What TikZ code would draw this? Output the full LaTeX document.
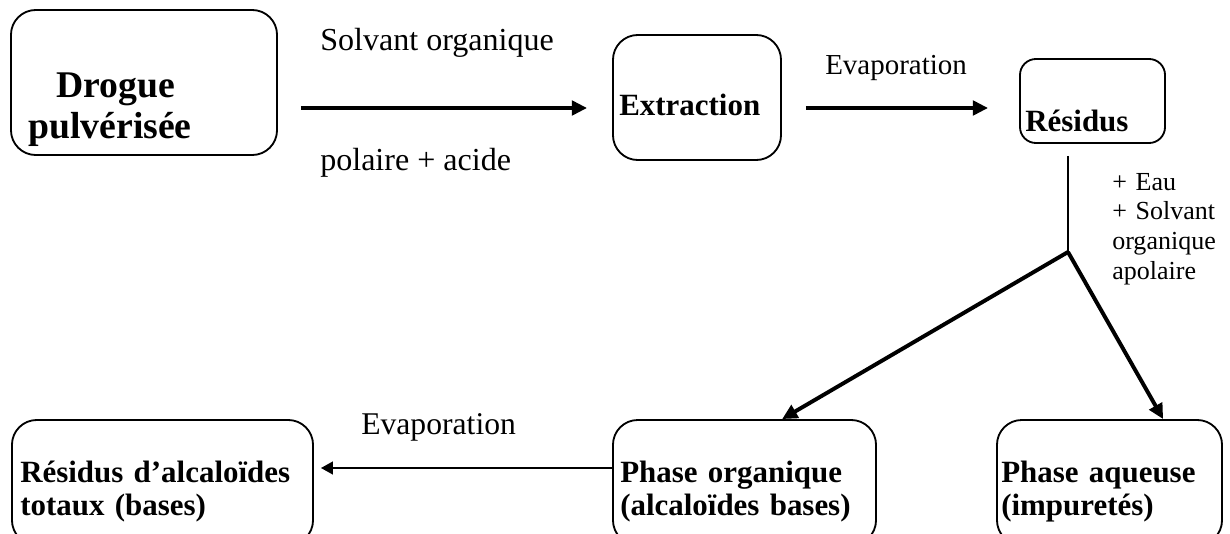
\documentclass[tikz,border=0pt]{standalone}
\usepackage{fontspec}
\setmainfont{Liberation Serif}
\usepackage{tikz}
\usetikzlibrary{arrows.meta}
\tikzstyle{box} = [rectangle, rounded corners=0.62cm, draw=black, line width=1.3pt]
\tikzstyle{boxtext} = [font=\bfseries\fontsize{22}{23.5}\selectfont, inner sep=0pt, anchor=base west, text width=9cm, align=left]
\tikzstyle{note} = [font=\fontsize{22.8}{26}\selectfont, inner sep=0pt, anchor=base west]
\tikzstyle{arrow} = [line width=2.8pt, -{Triangle[length=0.38cm, width=0.36cm]}]
\tikzstyle{thinarrow} = [line width=1.4pt, -{Triangle[length=0.3cm, width=0.32cm]}]
\tikzstyle{thinline} = [line width=1pt]

\begin{document}
\begin{tikzpicture}[x=0.025cm, y=-0.025cm]
\useasboundingbox (0,0) rectangle (1230,533);
\coordinate (row1) at (0,108);
\coordinate (row2) at (0,468);
\coordinate (split) at (1068,252);

\node (drogue) [box, minimum width=6.65cm, minimum height=3.625cm] at (144,82.5) {};
\node (extraction) [box, minimum width=4.2cm, minimum height=3.125cm] at (697,97.5) {};
\node (residus) [box, rounded corners=0.4cm, minimum width=3.625cm, minimum height=2.1cm] at (1092.5,101) {};
\node (totaux) [box, minimum width=7.525cm, minimum height=3.125cm] at (162.5,482.5) {};
\node (organique) [box, minimum width=6.575cm, minimum height=3.125cm] at (744.5,482.5) {};
\node (aqueuse) [box, minimum width=5.625cm, minimum height=3.125cm] at (1109.5,482.5) {};

\node (drogue-t) [boxtext, font=\bfseries\fontsize{26.8}{29.2}\selectfont, anchor=base, text width=5cm, align=center] at (110,97) {\hspace*{0.3cm}Drogue\\pulvérisée};
\node (extraction-t) [boxtext] at (619,115) {Extraction};
\node (residus-t) [boxtext] at (1025,131) {Résidus};
\node (totaux-t) [boxtext] at (20,482) {Résidus d'alcaloïdes\\totaux (bases)};
\node (organique-t) [boxtext] at (620,482) {Phase organique\\(alcaloïdes bases)};
\node (aqueuse-t) [boxtext] at (1001,482) {Phase aqueuse\\(impuretés)};

\node (solvant) [note] at (320,50) {Solvant organique};
\node (polaire) [note] at (320,170) {polaire + acide};
\node (evap1) [note, font=\fontsize{20.6}{24}\selectfont] at (825,74) {Evaporation};
\node (evap2) [note, font=\fontsize{22.5}{26}\selectfont] at (361,434) {Evaporation};
\node (ajouts) [note, font=\fontsize{18.5}{21.3}\selectfont, text width=3cm, align=left] at (1112,190) {+ Eau\\+ Solvant\\organique\\apolaire};

\draw [arrow, shorten <=0.575cm, shorten >=0.625cm] (drogue.east |- row1) -- (extraction.west |- row1);
\draw [arrow, shorten <=0.6cm, shorten >=0.775cm] (extraction.east |- row1) -- (residus.west |- row1);
\draw [thinline, shorten <=0.3cm] (residus.south -| split) -- (split);
\draw [arrow] (split) -- ([xshift=0.94cm]organique.north);
\draw [arrow] (split) -- ([xshift=1.34cm]aqueuse.north);
\draw [thinarrow, shorten >=0.175cm] (organique.west |- row2) -- (totaux.east |- row2);

\end{tikzpicture}
\end{document}
